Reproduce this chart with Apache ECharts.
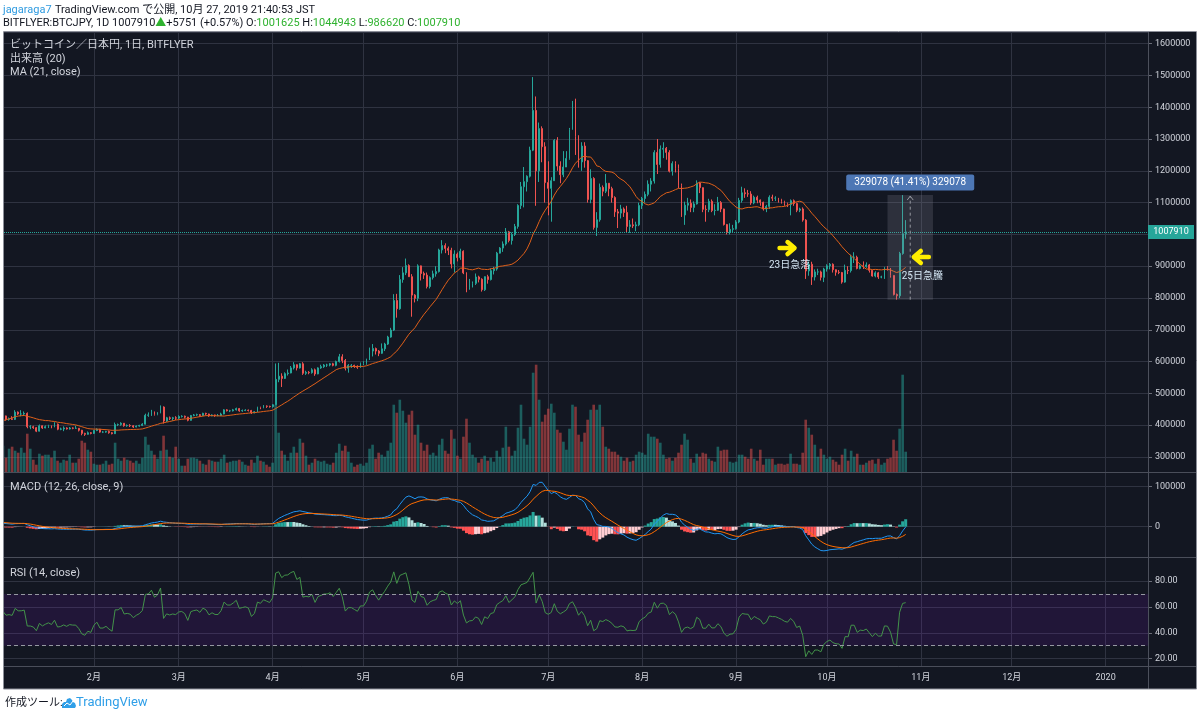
<!DOCTYPE html>
<html><head><meta charset="utf-8">
<script src="https://cdn.jsdelivr.net/npm/echarts/dist/echarts.min.js"></script>
<style>html,body{margin:0;padding:0;background:#fff;overflow:hidden}#c{width:1200px;height:715px}</style>
</head><body><div id="c"></div>
<script>
// ---------- DATA (prices in thousand JPY, BITFLYER:BTCJPY daily 2019) ----------
const priorClose = [384,393,365,357,356,360,395,412,420,458,436,448,444,451,422,428,401,432,420,435,413]; // Dec 11-31 2018 (indicator warm-up)

const closeJan=[418,429,418,420,418,441,435,435,437,395,395,392,381,398,391,395,398,394,403,387,388,391,388,391,390,390,384,374,371,376,374];
const highJan =[421,432,430,424,428,447,443,447,443,440,400,398,394,402,399,399,401,399,409,405,392,396,393,394,393,398,391,385,376,380,378];
const lowJan  =[409,415,414,414,416,416,432,428,432,390,387,388,378,380,388,390,391,390,393,384,384,381,386,386,387,388,380,368,366,370,371];

const closeFeb=[383,387,378,378,380,376,373,402,402,406,398,399,398,394,397,399,403,431,432,441,434,439,457,413,423,421,423,422];
const highFeb =[385,390,388,381,382,383,378,408,405,409,406,402,403,400,399,401,406,436,440,448,443,441,462,459,426,427,426,428];
const lowFeb  =[372,381,376,375,376,373,371,372,397,398,395,395,394,391,393,395,397,402,426,429,430,431,437,405,410,416,414,416];

const closeMar=[427,428,425,415,430,432,433,430,437,435,429,432,430,430,435,448,445,445,448,452,445,446,447,446,439,442,456,455,460,459,458];
const highMar =[431,431,430,426,432,435,436,435,439,439,436,434,433,435,439,450,450,448,451,455,454,449,450,449,448,444,458,458,463,462,461];
const lowMar  =[418,424,421,412,414,428,429,426,429,432,426,428,426,428,429,434,443,441,443,446,442,442,444,443,435,437,441,450,453,454,455];

const closeApr=[464,544,554,547,562,564,580,590,580,593,563,566,565,574,561,580,584,589,589,593,588,600,615,603,579,588,588,585,582,594];
const highApr =[466,594,596,563,566,575,586,598,591,595,598,571,570,579,578,582,590,592,593,595,596,603,624,623,608,592,592,590,588,597];
const lowApr  =[455,463,535,520,545,556,563,575,572,578,558,558,560,562,555,560,577,580,583,585,585,585,597,595,572,565,580,580,577,580];

const closeMay=[594,605,633,641,633,626,640,655,677,699,792,766,858,879,902,867,809,799,901,877,872,836,864,876,883,951,965,956,950,907,938];
const highMay =[601,609,644,655,644,636,657,659,681,706,812,813,872,897,924,906,875,812,906,902,883,880,868,886,900,955,982,972,962,958,950];
const lowMay  =[589,590,605,616,622,617,624,633,652,675,696,738,763,848,872,866,741,786,790,855,860,830,830,858,867,880,940,941,935,893,880];

const closeJun=[927,947,879,832,844,846,866,859,826,867,858,886,891,941,957,970,1008,981,1000,1025,1091,1150,1166,1183,1265,1390,1200,1333,1276,1163];
const highJun =[943,955,950,881,860,852,877,870,862,868,873,893,898,945,960,978,1020,1011,1006,1033,1095,1165,1212,1186,1276,1495,1434,1352,1340,1290];
const lowJun  =[915,920,875,818,826,833,841,849,820,822,845,855,874,886,940,945,965,975,968,995,1018,1080,1085,1135,1179,1262,1090,1165,1227,1100];

const closeJul=[1145,1169,1296,1215,1188,1212,1239,1330,1360,1309,1228,1278,1232,1110,1176,1022,1046,1148,1136,1161,1144,1116,1071,1067,1080,1069,1025,1030,1027,1030,1091];
const highJul =[1230,1180,1300,1306,1230,1262,1262,1335,1420,1427,1312,1290,1290,1234,1205,1180,1070,1160,1154,1190,1160,1150,1120,1080,1093,1085,1090,1045,1050,1040,1100];
const lowJul  =[1060,1040,1168,1200,1161,1180,1220,1235,1330,1250,1210,1200,1210,1100,1098,1015,995,1040,1120,1130,1120,1100,1055,1020,1050,1055,1005,1005,1020,1010,1026];

const closeAug=[1113,1126,1158,1168,1258,1220,1268,1271,1258,1199,1223,1207,1153,1061,1092,1098,1085,1096,1162,1147,1079,1078,1104,1075,1076,1100,1080,1031,1006,1016,1018];
const highAug =[1118,1135,1170,1177,1265,1300,1280,1290,1275,1265,1230,1230,1220,1160,1103,1115,1110,1104,1170,1165,1148,1092,1112,1110,1095,1118,1105,1081,1033,1035,1030];
const lowAug  =[1080,1100,1120,1135,1160,1190,1210,1240,1235,1195,1185,1195,1145,1055,1030,1075,1070,1070,1094,1130,1070,1040,1070,1070,1060,1074,1070,1028,1000,1000,1005];

const closeSep=[1039,1107,1131,1128,1127,1099,1117,1108,1101,1080,1088,1117,1114,1114,1109,1104,1097,1094,1106,1097,1076,1080,1045,885,906,866,882,882,865,891];
const highSep =[1045,1115,1150,1145,1140,1136,1122,1122,1110,1103,1093,1123,1125,1120,1115,1112,1106,1100,1110,1110,1100,1084,1085,1048,915,914,890,892,886,895];
const lowSep  =[1015,1035,1100,1115,1118,1093,1095,1098,1090,1075,1070,1080,1105,1105,1100,1097,1090,1086,1060,1090,1070,1070,1040,860,870,841,855,872,855,850];

const closeOct=[901,906,889,881,880,850,887,886,928,928,893,901,899,904,887,869,879,866,866,895,894,871,811,807,940,1002.159,1007.91];
const highOct =[906,910,909,890,888,882,905,900,936,944,933,905,915,912,907,888,884,882,870,898,900,894,870,814,945,1123.761,1044.943];
const lowOct  =[883,890,880,870,875,845,848,875,880,910,890,890,891,895,880,867,865,860,862,860,886,864,808,794.683,800,936,986.62];

const firstOpen = 413;        // open of Jan 1 (thousand JPY)
const lastOpen  = 1001.625;   // open of Oct 27 (thousand JPY)

// volume (relative units)
const volJan=[18,27,15,24,26,22,20,25,20,39,24,13,8,19,17,18,18,15,22,12,10,13,12,18,10,10,14,32,30,23,21];
const volFeb=[9,8,8,9,12,8,9,30,14,12,15,13,12,10,12,9,15,36,28,22,18,14,22,37,23,16,15,26];
const volMar=[14,7,7,14,15,15,14,12,9,8,13,12,11,11,14,18,10,11,12,12,13,11,8,7,13,10,17,12,11,8,6];
const volApr=[10,68,40,22,18,12,20,26,20,34,30,17,8,10,14,12,11,12,9,8,10,20,29,22,27,21,10,6,8,9];
const volMay=[7,10,24,28,14,20,18,16,22,30,68,60,73,62,50,58,62,38,48,30,22,28,18,20,17,28,34,22,19,43,34];
const volJun=[17,14,36,54,30,18,15,10,14,17,12,15,11,22,16,25,46,26,17,22,45,68,34,28,46,100,108,73,51,58];
const volJul=[64,69,60,43,40,31,23,44,68,66,38,31,40,53,63,68,63,68,46,26,24,21,21,18,16,12,15,11,12,18,21];
const volAug=[20,18,39,36,36,34,30,18,14,15,12,15,20,28,39,33,14,10,19,16,20,19,14,12,11,26,22,23,23,11,10];
const volSep=[11,18,18,16,14,24,14,12,23,8,14,14,14,8,9,9,8,9,19,9,9,8,20,53,45,38,28,16,24,18];
const volOct=[14,16,13,11,8,18,24,12,22,16,19,8,8,10,12,13,9,14,8,10,14,15,33,22,44,98,21];

const monthNames = ['1月','2月','3月','4月','5月','6月','7月','8月','9月','10月','11月','12月'];
const AXIS_DAYS = 380; // Jan 1 2019 .. Jan 15 2020

// annotation anchors (category index, price JPY)
const noteDrop = {text:'23日急落', idx:260, arrowPrice:957000, textPrice:903000};
const noteRise = {text:'25日急騰', idx:298, arrowIdx:304, arrowPrice:929000, textPrice:866000};
const measureFrom = 293, measureTo = 308;

// ---------- BUILD ----------
const K = 1000;
const closes = [].concat(closeJan,closeFeb,closeMar,closeApr,closeMay,closeJun,closeJul,closeAug,closeSep,closeOct).map(v=>v*K);
const highs0 = [].concat(highJan,highFeb,highMar,highApr,highMay,highJun,highJul,highAug,highSep,highOct).map(v=>v*K);
const lows0  = [].concat(lowJan,lowFeb,lowMar,lowApr,lowMay,lowJun,lowJul,lowAug,lowSep,lowOct).map(v=>v*K);
const vols   = [].concat(volJan,volFeb,volMar,volApr,volMay,volJun,volJul,volAug,volSep,volOct);
const n = closes.length;
const opens = closes.map((c,i)=> i===0 ? firstOpen*K : closes[i-1]);
opens[n-1] = lastOpen*K;
const highs = highs0.map((h,i)=>Math.max(h,opens[i],closes[i]));
const lows  = lows0.map((l,i)=>Math.min(l,opens[i],closes[i]));

const dates = [];
for (let i=0;i<AXIS_DAYS;i++){ const d=new Date(Date.UTC(2019,0,1)+i*864e5);
  dates.push(d.getUTCFullYear()+'-'+String(d.getUTCMonth()+1).padStart(2,'0')+'-'+String(d.getUTCDate()).padStart(2,'0')); }

const allC = priorClose.map(v=>v*K).concat(closes);
const P0 = priorClose.length;
function sma(a,len){return a.map((v,i)=>{if(i<len-1)return null;let s=0;for(let j=i-len+1;j<=i;j++)s+=a[j];return s/len;});}
function ema(a,len){const k=2/(len+1);let e=null;return a.map(v=>{e=(e===null)?v:v*k+e*(1-k);return e;});}
function rsiCalc(a,len){const out=a.map(()=>null);let ag=0,al=0;
  for(let i=1;i<a.length;i++){const ch=a[i]-a[i-1],g=Math.max(ch,0),l=Math.max(-ch,0);
    if(i<=len){ag+=g/len;al+=l/len;if(i===len)out[i]=al===0?100:100-100/(1+ag/al);}
    else{ag=(ag*(len-1)+g)/len;al=(al*(len-1)+l)/len;out[i]=al===0?100:100-100/(1+ag/al);}}
  return out;}
const ma21 = sma(allC,21).slice(P0);
const e12 = ema(allC,12), e26 = ema(allC,26);
const macdAll = e12.map((v,i)=>v-e26[i]);
const sigAll = ema(macdAll,9);
const histAll = macdAll.map((v,i)=>v-sigAll[i]);
const macd = macdAll.slice(P0), signal = sigAll.slice(P0), hist = histAll.slice(P0);
const rsi = rsiCalc(allC,14).slice(P0);

const UP='#26a69a', DOWN='#ef5350';
const candles = closes.map((c,i)=>[opens[i],c,lows[i],highs[i]]);
const volData = vols.map((v,i)=>({value:v,itemStyle:{color: closes[i]>=opens[i]?'rgba(38,166,154,0.5)':'rgba(239,83,80,0.5)'}}));
const histData = hist.map((h,i)=>{const p=i>0?hist[i-1]:histAll[P0-1];
  const col = h>=0 ? (p<h?'#26a69a':'#b2dfdb') : (p<h?'#ffcdd2':'#ff5252');
  return {value:h,itemStyle:{color:col}};});

// ---------- STYLE ----------
const FONT='Roboto, "Noto Sans CJK JP", sans-serif';
const BG='#131722', GRID='#2f3341', TEXT='#d1d4dc', AXISC='#4c505c';
const isMonthStart=(i,v)=> i>0 && String(v).slice(8)==='01';
const fmtMonth=v=>{const m=+v.slice(5,7);return m===1?v.slice(0,4):monthNames[m-1];};

const grids=[{top:32,height:440.7},{top:472.7,height:85},{top:557.7,height:109}]
  .map(g=>Object.assign({left:0,width:1148,containLabel:false,outerBoundsMode:'none'},g));

function yAx(g,min,max,split,fmt){return {type:'value',gridIndex:g,position:'right',min,max,splitNumber:split,
  axisLine:{show:true,lineStyle:{color:AXISC}},axisTick:{show:true,length:4,lineStyle:{color:'#6a6d78'}},
  axisLabel:{show:true,color:TEXT,fontSize:9,fontFamily:FONT,margin:7,formatter:fmt,showMinLabel:false,showMaxLabel:false,hideOverlap:false},
  splitLine:{show:true,lineStyle:{color:GRID,width:1}}};}

const option={
  backgroundColor:BG, animation:false, textStyle:{fontFamily:FONT},
  grid:grids,
  xAxis:[0,1,2].map(g=>({type:'category',gridIndex:g,data:dates,boundaryGap:false,
    axisLine:{show:false},axisTick:{show:false},
    axisLabel: g===2?{show:true,interval:isMonthStart,formatter:fmtMonth,color:TEXT,fontSize:9,fontFamily:FONT,margin:7,hideOverlap:false}:{show:false},
    splitLine:{show:true,interval:isMonthStart,lineStyle:{color:GRID,width:1}}})),
  yAxis:[
    yAx(0,250300,1636800,14,v=>(Math.round(v)===1000000?'':String(Math.round(v)))),
    {type:'value',gridIndex:0,min:0,max:440.7,show:false,splitLine:{show:false}},
    yAx(1,-77500,135000,2,v=>String(Math.round(v))),
    yAx(2,13.8,98,4,v=>v.toFixed(2))
  ],
  series:[
    {type:'bar',name:'vol',xAxisIndex:0,yAxisIndex:1,data:volData,barWidth:2.6,z:1,silent:true},
    {type:'candlestick',xAxisIndex:0,yAxisIndex:0,data:candles,barWidth:1.4,z:3,silent:true,
      itemStyle:{color:UP,color0:DOWN,borderColor:UP,borderColor0:DOWN,borderColorDoji:UP,borderWidth:1},
      markLine:{silent:true,symbol:'none',label:{show:false},lineStyle:{type:'dotted',color:UP,width:1},data:[{yAxis:closes[n-1]}]}},
    {type:'line',xAxisIndex:0,yAxisIndex:0,data:ma21,showSymbol:false,lineStyle:{color:'#e0601a',width:1},z:4,silent:true},
    {type:'bar',xAxisIndex:1,yAxisIndex:2,data:histData,barWidth:3,z:1,silent:true},
    {type:'line',xAxisIndex:1,yAxisIndex:2,data:macd,showSymbol:false,lineStyle:{color:'#2196f3',width:1},z:3,silent:true},
    {type:'line',xAxisIndex:1,yAxisIndex:2,data:signal,showSymbol:false,lineStyle:{color:'#ff6d00',width:1},z:3,silent:true},
    {type:'line',xAxisIndex:2,yAxisIndex:3,data:rsi,showSymbol:false,lineStyle:{color:'#43934a',width:1},z:3,silent:true,
      markArea:{silent:true,itemStyle:{color:'rgba(153,21,255,0.1)'},data:[[{yAxis:30},{yAxis:70}]]},
      markLine:{silent:true,symbol:'none',label:{show:false},lineStyle:{type:[4,3],color:'#9598a1',width:1},data:[{yAxis:70},{yAxis:30}]}}
  ]
};

const chart=echarts.init(document.getElementById('c'),null,{renderer:'canvas'});
chart.setOption(option);

// ---------- OVERLAYS ----------
const px=(i,v)=>chart.convertToPixel({xAxisIndex:0,yAxisIndex:0},[i,v]);
const f=(s,c)=>({font:s+'px '+FONT,fill:c});
const G=[];
const Z=50;
// frame
G.push({type:'rect',z:Z+10,shape:{x:0,y:0,width:1200,height:32},style:{fill:'#fff'}});
G.push({type:'rect',z:Z+10,shape:{x:0,y:689,width:1200,height:26},style:{fill:'#fff'}});
G.push({type:'rect',z:Z+10,shape:{x:0,y:32,width:3,height:657},style:{fill:'#fff'}});
G.push({type:'rect',z:Z+10,shape:{x:1197,y:32,width:3,height:657},style:{fill:'#fff'}});
G.push({type:'rect',z:Z+11,shape:{x:3.5,y:31.5,width:1193,height:657.5},style:{fill:'none',stroke:'#8c8f99',lineWidth:1}});
[472.5,557.5,666.5].forEach(y=>G.push({type:'line',z:Z,shape:{x1:3,y1:y,x2:1197,y2:y},style:{stroke:'#4a4e5a',lineWidth:1}}));
G.push({type:'line',z:Z,shape:{x1:1148.5,y1:32,x2:1148.5,y2:689},style:{stroke:AXISC,lineWidth:1}});

// header
const lc=closes[n-1], pc=closes[n-2], ch=lc-pc;
const fmtI=v=>String(Math.round(v));
G.push({type:'text',z:Z+12,x:3,y:10,style:{text:'{u|jagaraga7} {b|TradingView.com で公開, 10月 27, 2019 21:40:53 JST}',verticalAlign:'middle',
  rich:{u:{fill:'#2f9be0',fontSize:11,fontFamily:FONT},b:{fill:'#131722',fontSize:11,fontFamily:FONT}}}});
G.push({type:'text',z:Z+12,x:3,y:23.5,style:{
  text:'{b|BITFLYER:BTCJPY, 1D '+fmtI(lc)+'}{g|▲}{b|'+(ch>=0?'+':'')+fmtI(ch)+' ('+(ch>=0?'+':'')+(ch/pc*100).toFixed(2)+'%) O:}{g|'+fmtI(opens[n-1])+'}{b| H:}{g|'+fmtI(highs[n-1])+'}{b| L:}{g|'+fmtI(lows[n-1])+'}{b| C:}{g|'+fmtI(lc)+'}',
  verticalAlign:'middle',
  rich:{b:{fill:'#131722',fontSize:11,fontFamily:FONT},g:{fill:'#2fb22f',fontSize:11,fontFamily:FONT}}}});
// footer
G.push({type:'text',z:Z+12,x:5,y:703,style:Object.assign(f(11,'#131722'),{text:'作成ツール:',verticalAlign:'middle'})});
G.push({type:'polygon',z:Z+12,shape:{points:[[62,708],[62,704],[64,702],[66,702],[67,699],[70,698],[72,700],[73,702],[75,703],[76,706],[75,708]]},style:{fill:'#2f9fe8'}});
G.push({type:'polyline',z:Z+13,shape:{points:[[64,706],[67,703],[70,705],[73,701]]},style:{stroke:'#fff',lineWidth:1,fill:null}});
G.push({type:'text',z:Z+12,x:76,y:703,style:Object.assign(f(13,'#2f9fe8'),{text:'TradingView',verticalAlign:'middle'})});

// panel titles
[['ビットコイン／日本円, 1日, BITFLYER',45],['出来高 (20)',59],['MA (21, close)',72],['MACD (12, 26, close, 9)',487],['RSI (14, close)',573]]
 .forEach(([t,y])=>G.push({type:'text',z:Z,x:10,y:y,style:Object.assign(f(11,TEXT),{text:t,verticalAlign:'middle'})}));

// last price tag
const lp=px(n-1,lc);
G.push({type:'rect',z:Z+1,shape:{x:1148,y:lp[1]-7,width:46,height:14},style:{fill:UP}});
G.push({type:'text',z:Z+2,x:1171,y:lp[1],style:Object.assign(f(9,'#fff'),{text:fmtI(lc),align:'center',verticalAlign:'middle'})});

// measure box
const lo=Math.min(...lows.slice(measureFrom)), hi=Math.max(...highs.slice(measureFrom));
const pA=px(measureFrom,hi), pB=px(measureTo,lo);
const midX=(px(300,lo)[0]+px(301,lo)[0])/2;
G.push({type:'rect',z:Z,shape:{x:pA[0],y:pA[1],width:pB[0]-pA[0],height:pB[1]-pA[1]},style:{fill:'rgba(140,143,153,0.22)'}});
G.push({type:'line',z:Z+1,shape:{x1:midX,y1:pB[1],x2:midX,y2:pA[1]+1},style:{stroke:'#9598a1',lineWidth:1,lineDash:[3,3]}});
G.push({type:'polyline',z:Z+1,shape:{points:[[midX-3,pA[1]+5],[midX,pA[1]+1],[midX+3,pA[1]+5]]},style:{stroke:'#9598a1',lineWidth:1,fill:null}});
const diff=hi-lo, lbl=fmtI(diff)+' ('+(diff/lo*100).toFixed(2)+'%) '+fmtI(diff);
G.push({type:'rect',z:Z+2,shape:{x:midX-64,y:pA[1]-20.5,width:128,height:16,r:2},style:{fill:'#4d77b5'}});
G.push({type:'text',z:Z+3,x:midX,y:pA[1]-12.5,style:Object.assign(f(10,'#fff'),{text:lbl,align:'center',verticalAlign:'middle'})});

// arrows + notes
function arrow(cx,cy,dir){const s=dir;return [
  {type:'polyline',z:Z+4,shape:{points:[[cx-8*s,cy],[cx+6*s,cy]]},style:{stroke:'#ffee00',lineWidth:4.5,lineCap:'round',fill:null}},
  {type:'polyline',z:Z+4,shape:{points:[[cx,cy-6],[cx+7*s,cy],[cx,cy+6]]},style:{stroke:'#ffee00',lineWidth:4.5,lineCap:'round',lineJoin:'round',fill:null}}];}
const a1=px(noteDrop.idx,noteDrop.arrowPrice); G.push(...arrow(a1[0],a1[1],1));
const t1=px(noteDrop.idx,noteDrop.textPrice);
G.push({type:'text',z:Z+4,x:t1[0]+2,y:t1[1],style:Object.assign(f(10,'#d2e4f2'),{text:noteDrop.text,align:'center',verticalAlign:'middle'})});
const a2=px(noteRise.arrowIdx,noteRise.arrowPrice); G.push(...arrow(a2[0],a2[1],-1));
const t2=px(noteRise.idx,noteRise.textPrice);
G.push({type:'text',z:Z+4,x:t2[0]-1,y:t2[1],style:Object.assign(f(10,'#d2e4f2'),{text:noteRise.text,align:'left',verticalAlign:'middle'})});

chart.setOption({graphic:{elements:G}});
</script></body></html>
